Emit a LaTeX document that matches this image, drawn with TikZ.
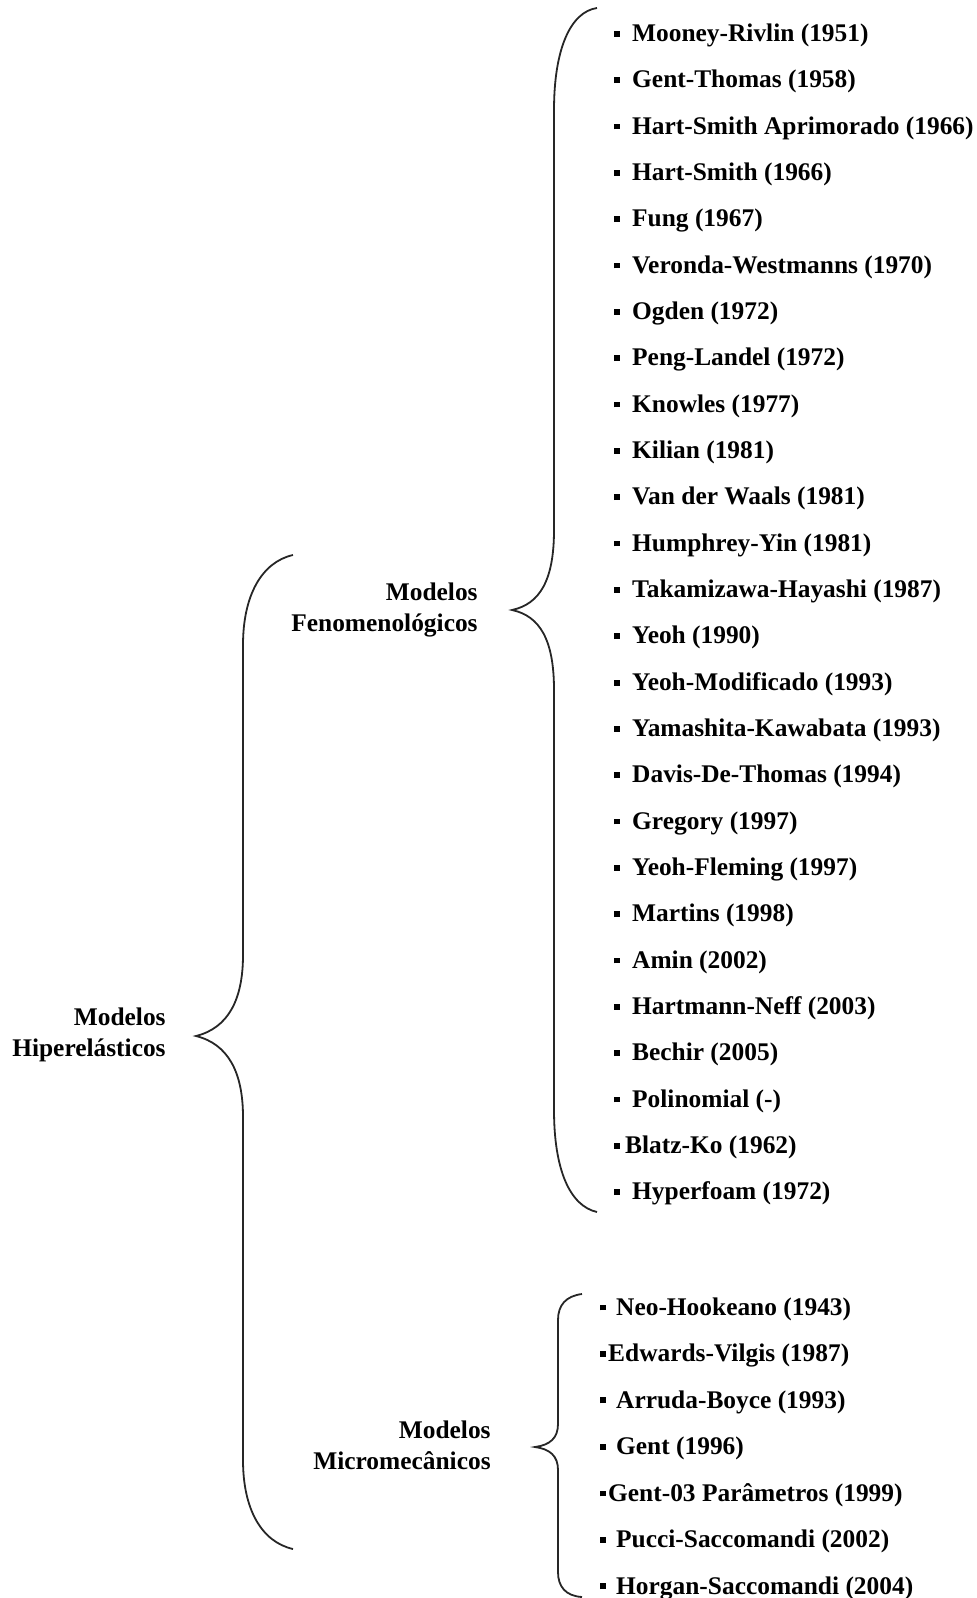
\documentclass[tikz,border=0pt]{standalone}
\usepackage{fontspec}
\setmainfont{Liberation Serif}
\usepackage{tikz}

\newcommand{\sq}{\rule[2.4pt]{2.9pt}{2.9pt}}

\tikzset{
  lbl/.style={anchor=east, align=right, inner sep=0pt},
  itm/.style={anchor=west, inner sep=0pt},
  brace/.style={line width=0.9pt, black!85}
}

\begin{document}
\begin{tikzpicture}[x=0.5pt,y=-0.5pt,font=\fontsize{12.7pt}{15.5pt}\selectfont\bfseries]
\useasboundingbox (0,0) rectangle (977,1598);

\node[lbl] (hip) at (166,1035) {Modelos\\Hiperelásticos};
\node[lbl] (fen) at (478,610) {Modelos\\Fenomenológicos};
\node[lbl] (mic) at (491,1445) {Modelos\\Micromecânicos};

% big brace
\draw[brace] (293,555) .. controls (262,562) and (243,595) .. (243,645) -- (243,955)
  .. controls (243,1000) and (228,1028) .. (196,1036)
  .. controls (228,1044) and (243,1072) .. (243,1117) -- (243,1460)
  .. controls (243,1510) and (262,1542) .. (293,1549);

% fenomenologicos
\draw[brace] (597,8) .. controls (570,12) and (554,50) .. (554,110) -- (554,530)
  .. controls (554,580) and (540,604) .. (512,610)
  .. controls (540,616) and (554,640) .. (554,690) -- (554,1110)
  .. controls (554,1170) and (570,1206) .. (597,1212);

% micromecanicos
\draw[brace] (582,1294) .. controls (566,1296) and (558,1305) .. (558,1320) -- (558,1424)
  .. controls (558,1438) and (550,1445) .. (535,1447)
  .. controls (550,1449) and (558,1456) .. (558,1470) -- (558,1572)
  .. controls (558,1587) and (566,1596) .. (582,1597);

\foreach \g/\t [count=\i] in {6pt/Mooney-Rivlin (1951), 6pt/Gent-Thomas (1958),
  6pt/Hart-Smith Aprimorado (1966), 6pt/Hart-Smith (1966), 6pt/Fung (1967),
  6pt/Veronda-Westmanns (1970), 6pt/Ogden (1972), 6pt/Peng-Landel (1972),
  6pt/Knowles (1977), 6pt/Kilian (1981), 6pt/Van der Waals (1981),
  6pt/Humphrey-Yin (1981), 6pt/Takamizawa-Hayashi (1987), 6pt/Yeoh (1990),
  6pt/Yeoh-Modificado (1993), 6pt/Yamashita-Kawabata (1993),
  6pt/Davis-De-Thomas (1994), 6pt/Gregory (1997), 6pt/Yeoh-Fleming (1997),
  6pt/Martins (1998), 6pt/Amin (2002), 6pt/Hartmann-Neff (2003),
  6pt/Bechir (2005), 6pt/Polinomial (-), 2.5pt/Blatz-Ko (1962),
  6pt/Hyperfoam (1972)}
  \node[itm] (f\i) at (614,{35.5+46.33*(\i-1)}) {\sq\hspace{\g}\t};

\foreach \g/\t [count=\i] in {5pt/Neo-Hookeano (1943), 1pt/Edwards-Vilgis (1987),
  5pt/Arruda-Boyce (1993), 5pt/Gent (1996), 1pt/Gent-03 Parâmetros (1999),
  5pt/Pucci-Saccomandi (2002), 5pt/Horgan-Saccomandi (2004)}
  \node[itm] (m\i) at (600,{1309+46.5*(\i-1)}) {\sq\hspace{\g}\t};
\end{tikzpicture}
\end{document}
